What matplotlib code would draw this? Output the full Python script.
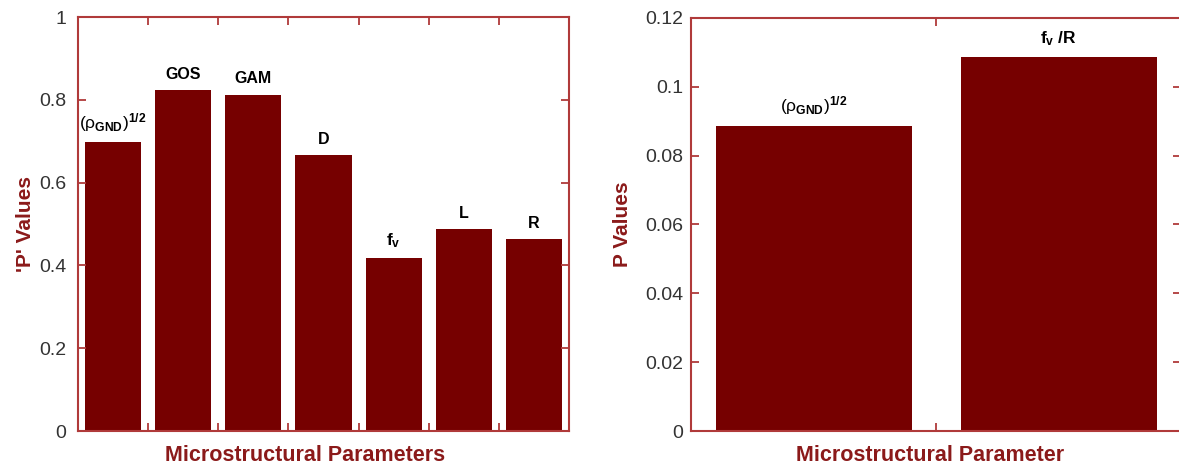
import matplotlib
matplotlib.use("Agg")
import matplotlib.pyplot as plt

# --- Data ---
left_labels = [r'$(\rho_{\mathbf{GND}})^{\mathbf{1/2}}$', 'GOS', 'GAM', 'D',
               r'$\mathbf{f_v}$', 'L', 'R']
left_values = [0.698, 0.824, 0.812, 0.667, 0.418, 0.488, 0.464]

right_labels = [r'$(\rho_{\mathbf{GND}})^{\mathbf{1/2}}$', r'$\mathbf{f_v\ /R}$']
right_values = [0.0887, 0.1088]

left_yticks = [0, 0.2, 0.4, 0.6, 0.8, 1]
left_yticklabels = ['0', '0.2', '0.4', '0.6', '0.8', '1']
right_yticks = [0, 0.02, 0.04, 0.06, 0.08, 0.1, 0.12]
right_yticklabels = ['0', '0.02', '0.04', '0.06', '0.08', '0.1', '0.12']

# --- Style ---
BAR_COLOR = '#760000'
SPINE_COLOR = '#b03a3a'
LABEL_COLOR = '#8b1a1a'
TICK_TEXT = '#333333'

plt.rcParams['font.family'] = ['Liberation Sans', 'DejaVu Sans']
plt.rcParams['mathtext.fontset'] = 'custom'
plt.rcParams['mathtext.rm'] = 'Liberation Sans'
plt.rcParams['mathtext.it'] = 'Liberation Sans'
plt.rcParams['mathtext.bf'] = 'Liberation Sans:bold'

fig = plt.figure(figsize=(11.79, 4.65), dpi=100)
ax1 = fig.add_axes([78 / 1179, 34 / 465, 491 / 1179, 414 / 465])
ax2 = fig.add_axes([691 / 1179, 34 / 465, 490 / 1179, 413 / 465])


def style_axes(ax, n, yticks, yticklabels, ylim, ypad):
    for sp in ax.spines.values():
        sp.set_color(SPINE_COLOR)
        sp.set_linewidth(1.5)
    ax.set_xlim(-0.5, n - 0.5)
    ax.set_ylim(*ylim)
    ax.set_xticks([i + 0.5 for i in range(n - 1)])
    ax.set_xticklabels([])
    ax.set_yticks(yticks)
    ax.set_yticklabels(yticklabels)
    ax.tick_params(axis='x', direction='in', top=True, bottom=True,
                   length=6, width=1.3, color=SPINE_COLOR)
    ax.tick_params(axis='y', direction='in', left=True, right=True,
                   length=6, width=1.3, color=SPINE_COLOR,
                   labelsize=14, labelcolor=TICK_TEXT, pad=ypad)


def label_size(lab):
    # mathtext labels render a little smaller, bump them up
    return 12.5 if lab.startswith('$') else 11.5


# --- Left panel ---
x1 = range(len(left_values))
ax1.bar(x1, left_values, width=0.8, color=BAR_COLOR, zorder=1)
style_axes(ax1, len(left_values), left_yticks, left_yticklabels, (0, 1), 8.5)
for i, (v, lab) in enumerate(zip(left_values, left_labels)):
    ax1.annotate(lab, (i, v), xytext=(0, 6), textcoords='offset points',
                 ha='center', va='bottom', fontsize=label_size(lab),
                 fontweight='bold', color='black')
ax1.set_xlabel('Microstructural Parameters', fontsize=15.5, fontweight='bold',
               color=LABEL_COLOR)
ax1.xaxis.set_label_coords(0.462, -0.035)
ax1.set_ylabel("'P' Values", fontsize=15, fontweight='bold', color=LABEL_COLOR)
ax1.yaxis.set_label_coords(-0.088, 0.5)

# --- Right panel ---
x2 = range(len(right_values))
ax2.bar(x2, right_values, width=0.8, color=BAR_COLOR, zorder=1)
style_axes(ax2, len(right_values), right_yticks, right_yticklabels, (0, 0.12), 5.5)
for i, (v, lab) in enumerate(zip(right_values, right_labels)):
    ax2.annotate(lab, (i, v), xytext=(0, 6), textcoords='offset points',
                 ha='center', va='bottom', fontsize=label_size(lab),
                 fontweight='bold', color='black')
ax2.set_xlabel('Microstructural Parameter', fontsize=15.5, fontweight='bold',
               color=LABEL_COLOR)
ax2.xaxis.set_label_coords(0.488, -0.035)
ax2.set_ylabel('P Values', fontsize=15, fontweight='bold', color=LABEL_COLOR)
ax2.yaxis.set_label_coords(-0.12, 0.5)

fig.savefig('out.png', dpi=100)
